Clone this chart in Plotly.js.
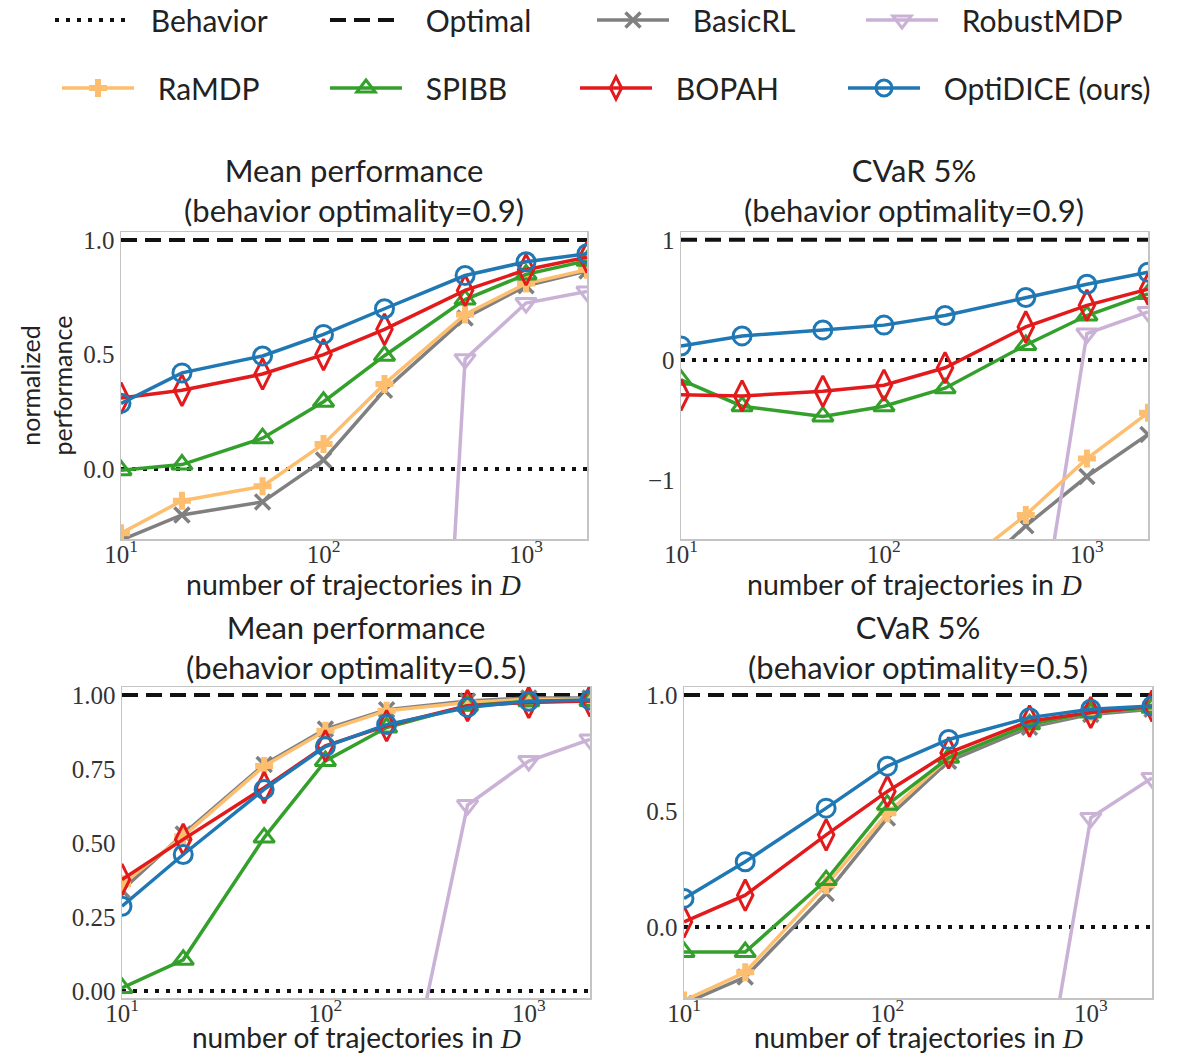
<!DOCTYPE html>
<html>
<head>
<meta charset="utf-8">
<script src="https://cdn.plot.ly/plotly-3.0.1.min.js"></script>
<style>html,body{margin:0;padding:0;background:#fff;}#chart{width:1188px;height:1056px;}</style>
</head>
<body>
<div id="chart"></div>
<script>
// ---- data ----
const nTraj = [10, 20, 50, 100, 200, 500, 1000, 2000];
const refX = [10, 2000];
const behaviorLevel = [0, 0];
const optimalLevel = [1, 1];

// Mean performance, behavior optimality = 0.9
const basicMean09  = [-0.31, -0.20, -0.143, 0.04, 0.344, 0.66, 0.80, 0.865];
const robustMean09 = [-9.0, -8.5, -8.0, -7.0, -5.6, 0.48, 0.725, 0.775];
const ramdpMean09  = [-0.28, -0.138, -0.075, 0.11, 0.372, 0.675, 0.81, 0.87];
const spibbMean09  = [-0.005, 0.02, 0.135, 0.294, 0.495, 0.74, 0.85, 0.91];
const bopahMean09  = [0.31, 0.344, 0.415, 0.50, 0.61, 0.78, 0.87, 0.925];
const optiMean09   = [0.287, 0.42, 0.494, 0.588, 0.70, 0.845, 0.905, 0.94];

// CVaR 5%, behavior optimality = 0.9
const basicCvar09  = [-3.6, -3.3, -2.9, -2.5, -2.0, -1.38, -0.97, -0.62];
const robustCvar09 = [-9.0, -8.5, -8.0, -7.0, -5.0, -3.0, 0.22, 0.40];
const ramdpCvar09  = [-3.4, -3.1, -2.7, -2.3, -1.82, -1.29, -0.82, -0.44];
const spibbCvar09  = [-0.165, -0.385, -0.47, -0.385, -0.235, 0.125, 0.37, 0.55];
const bopahCvar09  = [-0.29, -0.30, -0.26, -0.21, -0.065, 0.275, 0.455, 0.59];
const optiCvar09   = [0.116, 0.20, 0.25, 0.29, 0.37, 0.52, 0.63, 0.73];

// Mean performance, behavior optimality = 0.5
const basicMean05  = [0.34, 0.53, 0.765, 0.885, 0.95, 0.98, 0.99, 0.99];
const robustMean05 = [-3.0, -2.5, -2.0, -1.3, -0.67, 0.628, 0.777, 0.85];
const ramdpMean05  = [0.36, 0.523, 0.76, 0.879, 0.947, 0.975, 0.986, 0.986];
const spibbMean05  = [0.01, 0.105, 0.518, 0.777, 0.89, 0.964, 0.979, 0.98];
const bopahMean05  = [0.376, 0.512, 0.687, 0.828, 0.896, 0.964, 0.975, 0.98];
const optiMean05   = [0.286, 0.461, 0.681, 0.826, 0.90, 0.958, 0.979, 0.983];

// CVaR 5%, behavior optimality = 0.5
const basicCvar05  = [-0.33, -0.216, 0.144, 0.47, 0.714, 0.86, 0.916, 0.938];
const robustCvar05 = [-4.0, -3.5, -3.0, -2.5, -1.8, -1.07, 0.47, 0.642];
const ramdpCvar05  = [-0.317, -0.195, 0.18, 0.49, 0.729, 0.873, 0.924, 0.945];
const spibbCvar05  = [-0.108, -0.108, 0.202, 0.527, 0.729, 0.873, 0.924, 0.945];
const bopahCvar05  = [0.022, 0.137, 0.397, 0.584, 0.75, 0.887, 0.924, 0.952];
const optiCvar05   = [0.123, 0.281, 0.512, 0.693, 0.808, 0.902, 0.938, 0.952];

const methodNames = ['Behavior', 'Optimal', 'BasicRL', 'RobustMDP', 'RaMDP', 'SPIBB', 'BOPAH', 'OptiDICE (ours)'];
const xTickVals = [10, 100, 1000];
const xTickText = ['10<sup>1</sup>', '10<sup>2</sup>', '10<sup>3</sup>'];

// ---- styles ----
const SANS = 'Lato, "Open Sans", sans-serif';
const SERIF = '"Liberation Serif", "DejaVu Serif", serif';
const styles = {
  'Behavior':  {line: {color: '#111', width: 4, dash: '4px,7px'}, mode: 'lines'},
  'Optimal':   {line: {color: '#111', width: 4, dash: '16px,8px'}, mode: 'lines'},
  'BasicRL':   {line: {color: '#808080', width: 3.5}, marker: {symbol: 'x-thin-open', size: 15, color: '#808080', line: {color: '#808080', width: 3.5}}},
  'RobustMDP': {line: {color: '#cab2d6', width: 3.5}, marker: {symbol: 'triangle-down-open', size: 18, color: '#cab2d6', line: {color: '#cab2d6', width: 3}}},
  'RaMDP':     {line: {color: '#fdbf6f', width: 3.5}, marker: {symbol: 'cross', size: 15, color: '#fdbf6f', line: {width: 0}}},
  'SPIBB':     {line: {color: '#33a02c', width: 3.5}, marker: {symbol: 'triangle-up-open', size: 18, color: '#33a02c', line: {color: '#33a02c', width: 3}}},
  'BOPAH':     {line: {color: '#e31a1c', width: 3.5}, marker: {symbol: 'diamond-tall-open', size: 22, color: '#e31a1c', line: {color: '#e31a1c', width: 3}}},
  'OptiDICE (ours)': {line: {color: '#1f78b4', width: 3.5}, marker: {symbol: 'circle-open', size: 18, color: '#1f78b4', line: {color: '#1f78b4', width: 3}}}
};

const panels = [
  {xa: 'x',  ya: 'y',  series: [behaviorLevel, optimalLevel, basicMean09, robustMean09, ramdpMean09, spibbMean09, bopahMean09, optiMean09]},
  {xa: 'x2', ya: 'y2', series: [behaviorLevel, optimalLevel, basicCvar09, robustCvar09, ramdpCvar09, spibbCvar09, bopahCvar09, optiCvar09]},
  {xa: 'x3', ya: 'y3', series: [behaviorLevel, optimalLevel, basicMean05, robustMean05, ramdpMean05, spibbMean05, bopahMean05, optiMean05]},
  {xa: 'x4', ya: 'y4', series: [behaviorLevel, optimalLevel, basicCvar05, robustCvar05, ramdpCvar05, spibbCvar05, bopahCvar05, optiCvar05]}
];

const legendIds = ['legend', 'legend2', 'legend3', 'legend4', 'legend5', 'legend6', 'legend7', 'legend8'];
const LEGEND_GAP = '\u2002\u2009'; // spacing between legend sample and label
const traces = [];
panels.forEach((p, pi) => {
  methodNames.forEach((name, mi) => {
    const st = styles[name];
    const isRef = mi < 2;
    const t = {
      type: 'scatter',
      x: isRef ? refX : nTraj,
      y: p.series[mi],
      name: LEGEND_GAP + name,
      xaxis: p.xa, yaxis: p.ya,
      mode: st.mode || 'lines+markers',
      line: st.line,
      showlegend: pi === 0,
      legend: legendIds[mi],
      legendgroup: name,
      hoverinfo: 'x+y+name'
    };
    if (st.marker) t.marker = st.marker;
    traces.push(t);
  });
});

// ---- layout ----
const W = 1188, H = 1056;
const px = v => v / W;
const py = v => 1 - v / H;

const tickFont = {family: SERIF, size: 25, color: '#333'};
const xTitle = 'number of trajectories in <span style="font-family:Liberation Serif"><i>D</i></span>';

function xAxis(l, r, anchor, standoff) {
  return {
    domain: [px(l), px(r)], anchor: anchor, type: 'log', range: [1, Math.log10(2000)],
    tickvals: xTickVals, ticktext: xTickText, tickfont: tickFont, ticks: '',
    ticklabelstandoff: standoff,
    showline: true, mirror: true, linecolor: '#c4c4c4', linewidth: 1.5,
    showgrid: false, zeroline: false
  };
}
function yAxis(top, bot, anchor, range, vals, text) {
  return {
    domain: [py(bot), py(top)], anchor: anchor, range: range,
    tickvals: vals, ticktext: text, tickfont: tickFont, ticks: '',
    showline: true, mirror: true, linecolor: '#c4c4c4', linewidth: 1.5,
    showgrid: false, zeroline: false
  };
}

const legendRows = [20, 88];
const legendStarts = [55, 330, 597, 866, 62, 330, 580, 848];
const titleAnn = {xref: 'paper', yref: 'paper', xanchor: 'center', yanchor: 'middle', showarrow: false,
  font: {family: SANS, size: 31, color: '#222'}};
const xTitleAnn = {xref: 'paper', yref: 'paper', xanchor: 'center', yanchor: 'middle', showarrow: false,
  font: {family: SANS, size: 28.5, color: '#222'}};
const xTitleAnnBottom = Object.assign({}, xTitleAnn, {yanchor: 'bottom', font: {family: SANS, size: 28, color: '#222'}});
const layout = {
  width: W, height: H,
  margin: {l: 0, r: 0, t: 0, b: 0, autoexpand: false},
  paper_bgcolor: '#fff', plot_bgcolor: '#fff',
  font: {family: SANS, color: '#222'},
  xaxis: xAxis(121, 587, 'y', -8),
  yaxis: Object.assign(yAxis(232, 539, 'x', [-0.305, 1.035], [0, 0.5, 1], ['0.0', '0.5', '1.0']),
    {title: {text: 'normalized<br>performance', font: {family: SANS, size: 25, color: '#222'}, standoff: 3}}),
  xaxis2: xAxis(681, 1148, 'y2', -8),
  yaxis2: yAxis(232, 539, 'x2', [-1.49, 1.065], [-1, 0, 1], ['\u22121', '0', '1']),
  xaxis3: xAxis(122, 590, 'y3', -8),
  yaxis3: yAxis(687, 998, 'x3', [-0.024, 1.027], [0, 0.25, 0.5, 0.75, 1], ['0.00', '0.25', '0.50', '0.75', '1.00']),
  xaxis4: xAxis(684, 1152, 'y4', -8),
  yaxis4: yAxis(687, 998, 'x4', [-0.306, 1.034], [0, 0.5, 1], ['0.0', '0.5', '1.0']),
  annotations: [
    Object.assign({text: 'Mean performance<br>(behavior optimality=0.9)', x: px(354), y: py(190)}, titleAnn),
    Object.assign({text: 'CVaR 5%<br>(behavior optimality=0.9)', x: px(914), y: py(190)}, titleAnn),
    Object.assign({text: 'Mean performance<br>(behavior optimality=0.5)', x: px(356), y: py(647)}, titleAnn),
    Object.assign({text: 'CVaR 5%<br>(behavior optimality=0.5)', x: px(918), y: py(647)}, titleAnn),
    Object.assign({text: xTitle, x: px(354), y: py(584)}, xTitleAnn),
    Object.assign({text: xTitle, x: px(914), y: py(584)}, xTitleAnn),
    Object.assign({text: xTitle, x: px(356), y: 0}, xTitleAnnBottom),
    Object.assign({text: xTitle, x: px(918), y: 0}, xTitleAnnBottom)
  ],
  showlegend: true
};
legendIds.forEach((id, i) => {
  layout[id] = {
    x: px(legendStarts[i] - 5), y: py(legendRows[i < 4 ? 0 : 1]),
    xanchor: 'left', yanchor: 'middle', orientation: 'h',
    bgcolor: 'rgba(0,0,0,0)', borderwidth: 0, itemwidth: 72,
    font: {family: SANS, size: 30, color: '#222'}
  };
});

Plotly.newPlot('chart', traces, layout, {displayModeBar: false, staticPlot: true});
</script>
</body>
</html>
